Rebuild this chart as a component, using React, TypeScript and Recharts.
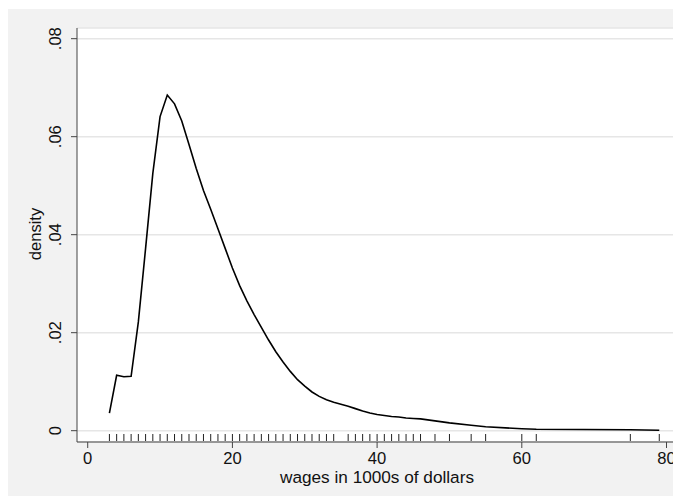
import React from "react";
import { ComposedChart, Line, Scatter, XAxis, YAxis, CartesianGrid, Label } from "recharts";

const wages = [3, 4, 5, 6, 7, 8, 9, 10, 11, 12, 13, 14, 15, 16, 17, 18, 19, 20, 21, 22, 23, 24, 25, 26, 27, 28, 29, 30, 31, 32, 33, 34, 36, 37, 38, 39, 40, 41, 42, 43, 44, 45, 46, 48, 50, 53, 55, 60, 62, 75, 79];
const density = [0.0036, 0.0113, 0.011, 0.0111, 0.0222, 0.0372, 0.0525, 0.0641, 0.0685, 0.0667, 0.0632, 0.0584, 0.0535, 0.049, 0.0452, 0.0412, 0.0372, 0.0332, 0.0296, 0.0265, 0.0237, 0.0211, 0.0185, 0.0161, 0.014, 0.0121, 0.0104, 0.0091, 0.0079, 0.007, 0.0063, 0.0058, 0.005, 0.0045, 0.004, 0.0036, 0.0033, 0.0031, 0.0029, 0.0028, 0.0026, 0.0025, 0.0024, 0.002, 0.0016, 0.0011, 0.0008, 0.0004, 0.0003, 0.0002, 0.0001];
const xTicks = [0, 20, 40, 60, 80];
const yTicks = [0, 0.02, 0.04, 0.06, 0.08];
const yTickLabels = ["0", ".02", ".04", ".06", ".08"];
const xDomain = [-1.48, 81.45];
const yDomain = [-0.00231, 0.08218];

const curve = wages.map((w, i) => ({ x: w, y: density[i] }));
const rug = wages.map((w) => ({ x: w, y: yDomain[0] }));

const FONT = "'Liberation Sans', Arial, Helvetica, sans-serif";
const FS = 16.6;
const TITLE_FS = 17.2;

const YTick = (props: any) => {
  const { x, y, payload } = props;
  const idx = yTicks.indexOf(payload.value);
  const label = idx >= 0 ? yTickLabels[idx] : String(payload.value);
  return (
    <text x={x} y={y} transform={`rotate(-90, ${x}, ${y})`} textAnchor="middle" fontFamily={FONT} fontSize={FS} fill="#111">
      {label}
    </text>
  );
};

const XTick = (props: any) => {
  const { x, y, payload } = props;
  return (
    <text x={x} y={y} dy={14} textAnchor="middle" fontFamily={FONT} fontSize={FS} fill="#111">
      {payload.value}
    </text>
  );
};

const RugMark = (props: any) => {
  const { cx, cy } = props;
  return <line x1={cx} x2={cx} y1={cy - 8} y2={cy - 1} stroke="#222" strokeWidth={1} />;
};

export default function App() {
  return (
    <div style={{ width: 673, height: 487, background: "#f2f2f2", marginTop: 1 }}>
      <ComposedChart width={673} height={487} margin={{ top: 19, right: 4, bottom: 0, left: 0 }}>
        <CartesianGrid vertical={false} horizontal={true} fill="#ffffff" stroke="#e6e6e6" strokeWidth={1.5} />
        <XAxis
          type="number"
          dataKey="x"
          domain={xDomain}
          ticks={xTicks}
          allowDataOverflow
          height={54}
          tickSize={6}
          tickMargin={2}
          stroke="#444"
          tick={<XTick />}
        >
          <Label
            content={(p: any) => {
              const vb = p.viewBox;
              return (
                <text x={vb.x + vb.width / 2} y={vb.y + 40.5} textAnchor="middle" fontFamily={FONT} fontSize={TITLE_FS} fill="#111">
                  wages in 1000s of dollars
                </text>
              );
            }}
          />
        </XAxis>
        <YAxis
          type="number"
          dataKey="y"
          domain={yDomain}
          ticks={yTicks}
          allowDataOverflow
          width={69}
          tickSize={6}
          tickMargin={10}
          stroke="#444"
          tick={<YTick />}
        >
          <Label
            content={(p: any) => {
              const vb = p.viewBox;
              const cx = 33;
              const cy = vb.y + vb.height / 2 - 1;
              return (
                <text x={cx} y={cy} transform={`rotate(-90, ${cx}, ${cy})`} textAnchor="middle" fontFamily={FONT} fontSize={FS} fill="#111">
                  density
                </text>
              );
            }}
          />
        </YAxis>
        <Scatter data={rug} dataKey="y" shape={<RugMark />} isAnimationActive={false} />
        <Line data={curve} dataKey="y" type="linear" stroke="#000" strokeWidth={1.6} dot={false} activeDot={false} isAnimationActive={false} />
      </ComposedChart>
    </div>
  );
}
